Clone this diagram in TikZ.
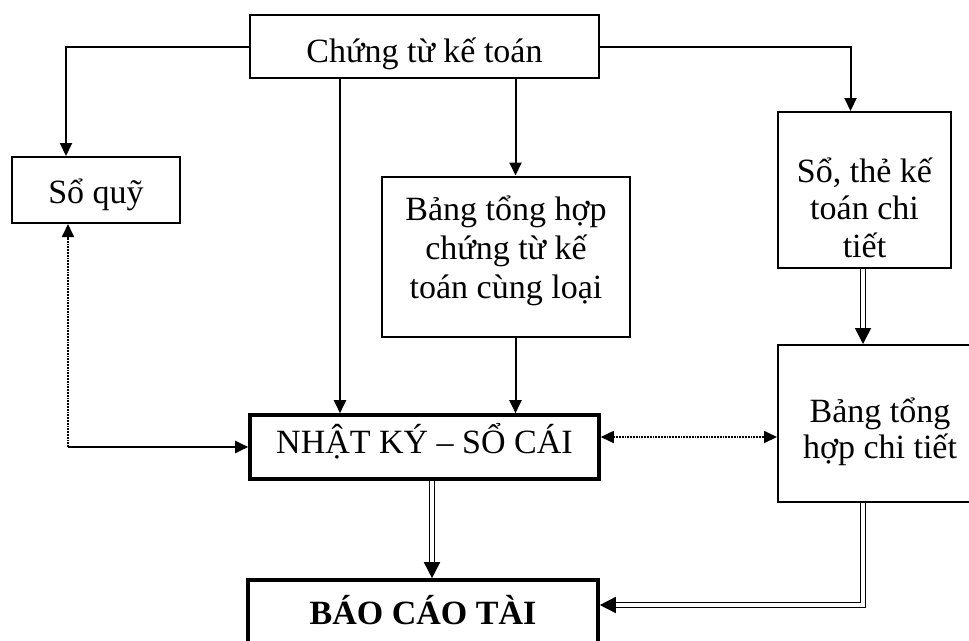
\documentclass[tikz,border=0pt]{standalone}
\usepackage{fontspec}
\setmainfont{Liberation Serif}
\usetikzlibrary{arrows.meta}
\tikzset{ftip/.tip={Triangle[length=13pt,width=12pt]}}
\begin{document}
\begin{tikzpicture}[x=1pt,y=-1pt,
  box/.style={draw, line width=2pt, align=center, inner sep=0pt,
    font=\fontsize{34}{39}\selectfont},
  heavybox/.style={box, line width=3.6pt},
  link/.style={line width=2pt, -{ftip}},
  dotlink/.style={line width=1.8pt, densely dotted},
  dbl/.style={double, double distance=3.5pt, line width=1.5pt,
    -{Triangle[length=16pt,width=16pt]}}]
\useasboundingbox (0,0) rectangle (969,640);
\clip (0,0) rectangle (969,640);

% boxes (text height/depth place the last baseline of each text)
\node[box, minimum width=349pt, minimum height=63pt, text height=36pt, text depth=5pt]
  (ct) at (424.5,46.5) {Chứng từ kế toán};
\node[box, minimum width=168pt, minimum height=66pt, text height=32pt, text depth=6pt]
  (sq) at (96,190) {Sổ quỹ};
\node[box, minimum width=248pt, minimum height=160pt, text height=90pt, text depth=7pt]
  (bh) at (506,256.5) {Bảng tổng hợp\\chứng từ kế\\toán cùng loại};
\node[box, minimum width=173pt, minimum height=156pt, text height=140pt, text depth=6pt,
  font=\fontsize{34}{37.5}\selectfont] (st) at (864.5,190) {Sổ, thẻ kế\\toán chi\\tiết};
\node[heavybox, minimum width=349pt, minimum height=64pt, text height=20pt, text depth=8pt]
  (nk) at (424.5,447) {NHẬT KÝ – SỔ CÁI};
\node[box, minimum width=204pt, minimum height=157pt, text height=75pt, text depth=6pt,
  font=\fontsize{34}{36}\selectfont] (bt) at (880,423.5) {Bảng tổng\\hợp chi tiết};
\node[heavybox, minimum width=350pt, minimum height=82pt,
  font=\bfseries\fontsize{34}{39}\selectfont, text height=16pt, text depth=10pt]
  (bc) at (423,621) {BÁO CÁO TÀI};

% single arrows from the source documents
\draw[link] (ct.west) -| ([xshift=-30pt]sq.north);
\draw[link] (ct.east) -| ([xshift=-14pt]st.north);
\draw[link] ([xshift=-84.5pt]ct.south) -- ([xshift=-84.5pt]nk.north);
\draw[link] ([xshift=91pt]ct.south) -- ([xshift=9.5pt]bh.north);
\draw[link] ([xshift=9.5pt]bh.south) -- ([xshift=91pt]nk.north);

% cash book link
\coordinate (q) at ([xshift=-28pt]sq.south |- nk.west);
\draw[dotlink, -{ftip}] (q) -- ([xshift=-28pt]sq.south);
\draw[link] (q) -- (nk.west);

% reconciliation with the detail summary
\draw[dotlink, {ftip}-{ftip}] ([yshift=10pt]nk.east) coordinate (d1)
  -- (d1 -| bt.west);

% double arrows to the reports
\draw[dbl] ([xshift=7.5pt]nk.south) -- ([xshift=9pt]bc.north);
\draw[dbl] ([xshift=-1.5pt]st.south) -- ([xshift=-17pt]bt.north);
\draw[dbl] ([xshift=-17pt]bt.south) |- ([yshift=16pt]bc.east);
\end{tikzpicture}
\end{document}
